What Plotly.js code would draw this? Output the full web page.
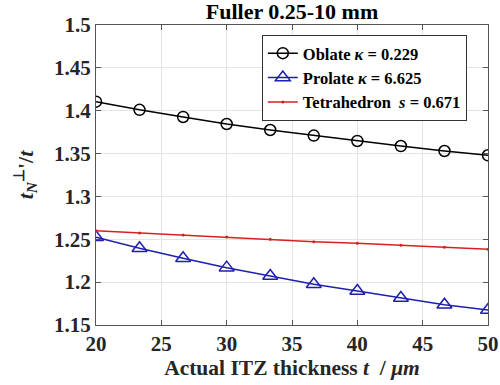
<!DOCTYPE html>
<html>
<head>
<meta charset="utf-8">
<script src="https://cdn.plot.ly/plotly-3.0.1.min.js"></script>
<style>html,body{margin:0;padding:0;background:#fff;}#chart{width:500px;height:385px;}</style>
</head>
<body>
<div id="chart"></div>
<script>
const thickness = [20, 23.333, 26.667, 30, 33.333, 36.667, 40, 43.333, 46.667, 50];
const oblate = [1.4106, 1.4010, 1.3927, 1.3845, 1.3775, 1.3710, 1.3647, 1.3588, 1.3530, 1.3480];
const prolate = [1.2523, 1.2395, 1.2278, 1.2169, 1.2072, 1.1975, 1.1897, 1.1815, 1.1737, 1.1675];
const tetrahedron = [1.2600, 1.2573, 1.2550, 1.2527, 1.2500, 1.2472, 1.2453, 1.2430, 1.2407, 1.2383];
const seriesNames = ['Oblate <i>κ</i> = 0.229', 'Prolate <i>κ</i> = 6.625', 'Tetrahedron  <i>s</i> = 0.671'];
const xTicks = [20, 25, 30, 35, 40, 45, 50];
const yTicks = [1.15, 1.2, 1.25, 1.3, 1.35, 1.4, 1.45, 1.5];
const yTickText = ['1.15', '1.2', '1.25', '1.3', '1.35', '1.4', '1.45', '1.5'];

const font = 'Liberation Serif';
const traces = [
  {x: thickness, y: oblate, name: seriesNames[0], mode: 'lines+markers',
   line: {color: '#000000', width: 1.5},
   marker: {symbol: 'circle-open', size: 11, color: '#000000', line: {width: 1.5}}},
  {x: thickness, y: prolate, name: seriesNames[1], mode: 'lines+markers',
   line: {color: '#1f1fb0', width: 1.5},
   marker: {symbol: 'triangle-up-open', size: 13, color: '#1f1fb0', line: {width: 1.5}}},
  {x: thickness, y: tetrahedron, name: seriesNames[2], mode: 'lines+markers',
   line: {color: '#d82020', width: 1.5},
   marker: {symbol: 'circle', size: 3, color: '#d82020'}}
];
const axisCommon = {
  showline: true, linecolor: '#555555', linewidth: 1, mirror: 'ticks',
  ticks: 'inside', ticklen: 5, tickcolor: '#555555',
  showgrid: true, gridcolor: '#e4e4e4', gridwidth: 1, zeroline: false,
  tickfont: {family: font, size: 21, color: '#262626', weight: 'bold'}
};
const layout = {
  width: 500, height: 385,
  margin: {l: 96, r: 12, t: 25, b: 60},
  paper_bgcolor: '#ffffff', plot_bgcolor: '#ffffff',
  showlegend: true,
  font: {family: font},
  title: {text: '<b>Fuller 0.25-10 mm</b>', x: 0.584, xanchor: 'center', y: 0.97, yanchor: 'middle',
          font: {family: font, size: 22, color: '#000000'}},
  xaxis: Object.assign({}, axisCommon, {
    range: [20, 50], tickvals: xTicks, ticktext: xTicks.map(String),
    title: {text: '<b>Actual ITZ thickness <i>t</i>  / <i>μm</i></b>', standoff: 2,
            font: {family: font, size: 21.5, color: '#262626'}}
  }),
  yaxis: Object.assign({}, axisCommon, {
    range: [1.15, 1.5], tickvals: yTicks, ticktext: yTickText,
    title: {text: '<b><i>t</i><sub><i>N</i></sub><sup>⊥</sup>\'/<i>t</i></b>', standoff: 14,
            font: {family: font, size: 22, color: '#262626'}}
  }),
  legend: {x: 0.423, y: 0.967, xanchor: 'left', yanchor: 'top',
           bgcolor: '#ffffff', bordercolor: '#333333', borderwidth: 1,
           font: {family: font, size: 16.5, color: '#000000', weight: 'bold'},
           tracegroupgap: 0, itemwidth: 30}
};
Plotly.newPlot('chart', traces, layout, {staticPlot: true, displayModeBar: false});
</script>
</body>
</html>
